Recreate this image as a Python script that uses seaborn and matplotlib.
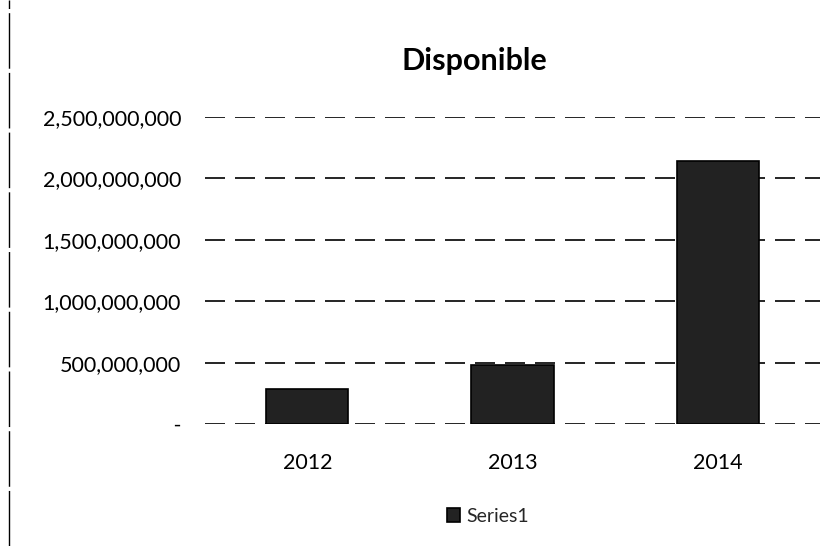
import matplotlib
matplotlib.use("Agg")
import matplotlib.pyplot as plt
import matplotlib.ticker as mticker
import seaborn as sns
import pandas as pd

years = ["2012", "2013", "2014"]
values = [290_000_000, 480_000_000, 2_140_000_000]
yticks = [0, 500_000_000, 1_000_000_000, 1_500_000_000, 2_000_000_000, 2_500_000_000]
series_name = "Series1"
title = "Disponible"

sns.set_theme(style="white")
plt.rcParams["font.family"] = ["Lato", "DejaVu Sans"]

df = pd.DataFrame({"year": years, "value": values, "series": series_name})

fig = plt.figure(figsize=(8.32, 5.46), dpi=100)
ax = fig.add_axes([0.246, 0.223, 0.74, 0.563])

sns.barplot(data=df, x="year", y="value", hue="series", ax=ax,
            palette=["#222222"], width=0.4, edgecolor="black", linewidth=1.2,
            zorder=3)

ax.set_ylim(0, 2_500_000_000)
ax.set_yticks(yticks)
ax.yaxis.set_major_formatter(mticker.FuncFormatter(
    lambda v, p: " -" if v == 0 else f"{int(v):,}"))
ax.grid(axis="y", color="black", linestyle=(0, (12, 6)), linewidth=1.2, zorder=0)
ax.set_axisbelow(True)
for s in ax.spines.values():
    s.set_visible(False)
ax.set_xlabel("")
ax.set_ylabel("")
ax.tick_params(axis="both", labelsize=15.5, colors="black", length=0)
ax.tick_params(axis="x", pad=21)
ax.tick_params(axis="y", pad=17)

fig.text(0.57, 0.888, title, ha="center", va="center", fontsize=22,
         fontweight="bold", color="black")

leg = ax.legend(loc="center", bbox_to_anchor=(0.46, -0.30), frameon=False,
                fontsize=14, handlelength=0.7, handleheight=0.7, handletextpad=0.3)

# scanned page border at left
fig.add_artist(plt.Line2D([0.011, 0.011], [0.0, 1.0], color="black",
                          linewidth=1.0, linestyle=(0, (40, 3))))

fig.savefig("out.png", dpi=100, facecolor="white")
